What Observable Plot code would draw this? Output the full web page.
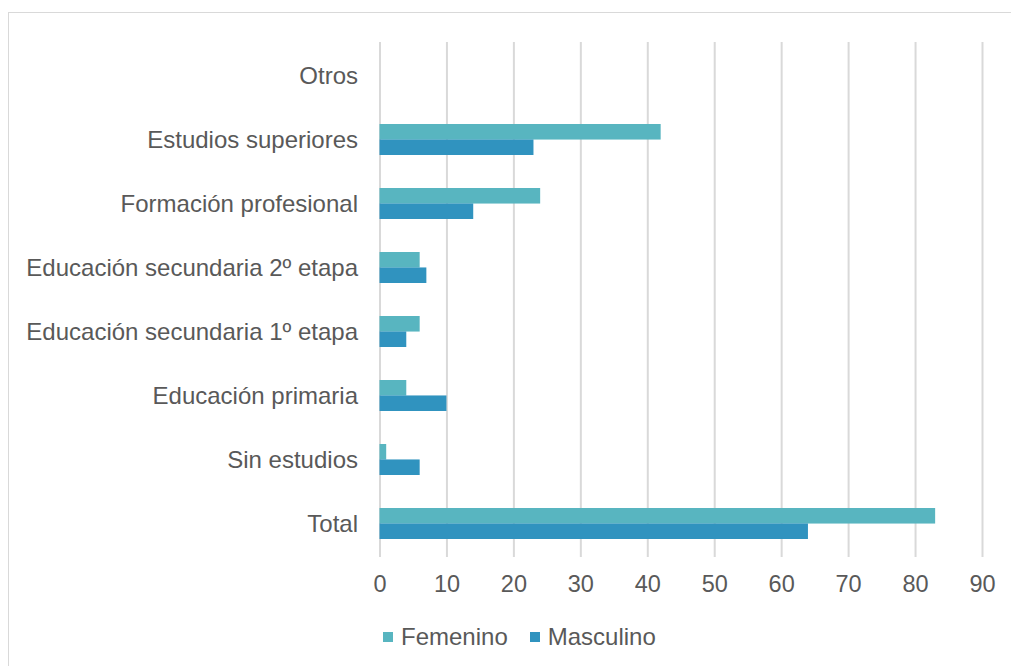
<!DOCTYPE html>
<html><head><meta charset="utf-8">
<script src="https://cdn.jsdelivr.net/npm/d3@7"></script>
<script src="https://cdn.jsdelivr.net/npm/@observablehq/plot@0.6"></script>
<style>
body{margin:0;background:#fff;font-family:"Liberation Sans",Arial,sans-serif;}
#wrap{position:relative;width:1011px;height:666px;overflow:hidden;background:#fff;}
#frame{position:absolute;left:8px;top:12px;width:1100px;height:700px;border-top:1.5px solid #d9d9d9;border-left:1.5px solid #d9d9d9;}
#chart{position:absolute;left:0;top:0;}
#legend{position:absolute;top:623px;left:383px;display:flex;align-items:center;font-size:24px;color:#595959;white-space:nowrap;}
#legend .item{display:flex;align-items:center;margin-right:22px;}
#legend .sw{width:10px;height:10px;margin-right:8px;}
</style>
</head><body>
<div id="wrap"><div id="frame"></div><div id="chart"></div><div id="legend"></div></div>
<script>
const categories = ["Otros","Estudios superiores","Formación profesional","Educación secundaria 2º etapa","Educación secundaria 1º etapa","Educación primaria","Sin estudios","Total"];
const femenino = [0,42,24,6,6,4,1,83];
const masculino = [0,23,14,7,4,10,6,64];
const xTicks = [0,10,20,30,40,50,60,70,80,90];
const seriesNames = ["Femenino","Masculino"];
const seriesColors = ["#58b5c0","#3093bf"];

const dataF = categories.map((c,i)=>({cat:c, value:femenino[i]}));
const dataM = categories.map((c,i)=>({cat:c, value:masculino[i]}));

const plotTop = 42, plotBottom = 557, plotH = 610;
const step = (plotBottom-plotTop)/categories.length;
const bw = step*(1-0.52);
const half = bw/2;

const chart = Plot.plot({
  width:1011, height:plotH,
  marginLeft:379.5, marginRight:29, marginTop:plotTop, marginBottom:plotH-plotBottom,
  style:{fontFamily:'"Liberation Sans",Arial,sans-serif', fontSize:"24px", color:"#595959", background:"transparent", overflow:"visible"},
  x:{domain:[0,90], ticks:xTicks, label:null, tickSize:0, tickPadding:19, tickFormat:d=>String(d)},
  y:{domain:categories, paddingInner:0.52, paddingOuter:0.26, label:null, tickSize:0, tickPadding:22},
  marks:[
    Plot.gridX(xTicks,{stroke:"#d9d9d9", strokeOpacity:1, strokeWidth:2}),
    Plot.barX(dataF,{y:"cat", x:"value", fill:seriesColors[0], insetBottom:half}),
    Plot.barX(dataM,{y:"cat", x:"value", fill:seriesColors[1], insetTop:half}),
    Plot.axisX({ticks:xTicks, tickSize:0, tickPadding:18, label:null, fill:"#595959", fontSize:23.5}),
    Plot.axisY({tickSize:0, tickPadding:22, label:null, fill:"#595959", fontSize:24})
  ]
});
document.getElementById("chart").appendChild(chart);

const legend = document.getElementById("legend");
seriesNames.forEach((n,i)=>{
  const it = document.createElement("div"); it.className="item";
  const sw = document.createElement("div"); sw.className="sw"; sw.style.background=seriesColors[i];
  const t = document.createElement("span"); t.textContent=n;
  it.appendChild(sw); it.appendChild(t); legend.appendChild(it);
});
</script>
</body></html>
